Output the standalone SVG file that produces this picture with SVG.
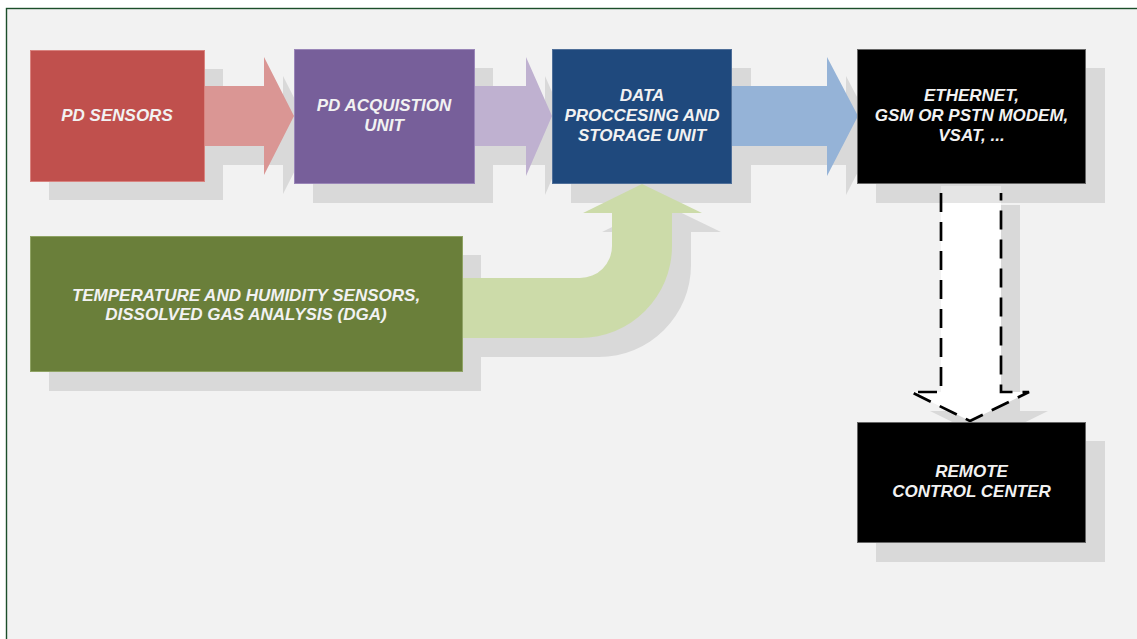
<svg xmlns="http://www.w3.org/2000/svg" width="1137" height="639" viewBox="0 0 1137 639">
  <style>
    .shadow { fill: #D9D9D9; }
    .box { stroke-width: 1; }
    .label { font-family: "Liberation Sans", Arial, sans-serif; font-size: 17px; font-weight: bold; font-style: italic; fill: #F2F2F2; text-anchor: middle; }
  </style>
  <defs>
    <path id="arrow1" d="M200 86 L264 86 L264 57 L294 116 L264 175 L264 146 L200 146 Z"/>
    <path id="arrow2" d="M470 86 L526 86 L526 57 L552 116 L526 176 L526 146 L470 146 Z"/>
    <path id="arrow3" d="M728 86 L827 86 L827 57 L858 116 L827 176 L827 146 L728 146 Z"/>
    <path id="bentArrow" d="M455 278 L580 278 A32 32 0 0 0 612 246 L612 213 L583 213 L642 184 L702 213 L672 213 L672 246 A92 92 0 0 1 580 338 L455 338 Z"/>
    <path id="downArrow" d="M941 186 L941 392 L911 392 L970 421 L1029 392 L1001 392 L1001 186 Z"/>
  </defs>

  <!-- page background and frame -->
  <rect x="0" y="0" width="1137" height="639" fill="#FFFFFF"/>
  <rect x="6.5" y="8.5" width="1140" height="640" fill="#F2F2F2" stroke="#1B4E2A" stroke-width="1.4"/>

  <!-- drop shadows -->
  <g id="shadows">
    <rect class="shadow" x="49" y="69" width="174" height="131"/>
    <rect class="shadow" x="313" y="68" width="180" height="135"/>
    <rect class="shadow" x="571" y="68" width="180" height="135"/>
    <rect class="shadow" x="876" y="68" width="229" height="135"/>
    <rect class="shadow" x="876" y="441" width="229" height="121"/>
    <rect class="shadow" x="49" y="255" width="432" height="136"/>
    <use class="shadow" href="#arrow1" transform="translate(19,19)"/>
    <use class="shadow" href="#arrow2" transform="translate(19,19)"/>
    <use class="shadow" href="#arrow3" transform="translate(19,19)"/>
    <use class="shadow" href="#bentArrow" transform="translate(19,19)"/>
    <use class="shadow" href="#downArrow" transform="translate(19,19)"/>
  </g>

  <!-- connectors -->
  <g id="connectors">
    <use href="#arrow1" fill="#DA9694"/>
    <use href="#arrow2" fill="#BFB1D0"/>
    <use href="#arrow3" fill="#95B3D7"/>
    <use href="#bentArrow" fill="#CCDBA9"/>
    <use href="#downArrow" fill="#FFFFFF"/>
    <!-- shadow of the modem box falling across the top of the link arrow -->
    <rect x="941" y="186" width="60" height="17" fill="#000000" fill-opacity="0.1"/>
    <path d="M941 193 L941 392 L911 392 L970 421 L1029 392 L1001 392 L1001 193" fill="none" stroke="#000000" stroke-width="2.7" stroke-dasharray="19 10"/>
  </g>

  <g id="pd-sensors">
    <rect class="box" x="30.5" y="50.5" width="174" height="131" fill="#C0504D" stroke="#D8837F"/>
    <text class="label" x="117" y="121">PD SENSORS</text>
  </g>

  <g id="pd-acquisition">
    <rect class="box" x="294.5" y="49.5" width="180" height="134" fill="#775F9A" stroke="#9A86B8"/>
    <text class="label" x="384" y="111">PD ACQUISTION</text>
    <text class="label" x="384" y="131">UNIT</text>
  </g>

  <g id="data-processing">
    <rect class="box" x="552.5" y="49.5" width="179" height="134" fill="#1F497D" stroke="#4F6F99"/>
    <text class="label" x="642" y="101">DATA</text>
    <text class="label" x="642" y="121">PROCCESING AND</text>
    <text class="label" x="642" y="141">STORAGE UNIT</text>
  </g>

  <g id="communication">
    <rect class="box" x="857.5" y="49.5" width="228" height="134" fill="#000000" stroke="#666666"/>
    <text class="label" x="971.5" y="101">ETHERNET,</text>
    <text class="label" x="971.5" y="121">GSM OR PSTN MODEM,</text>
    <text class="label" x="971.5" y="141">VSAT, ...</text>
  </g>

  <g id="remote-control">
    <rect class="box" x="857.5" y="422.5" width="228" height="120" fill="#000000" stroke="#666666"/>
    <text class="label" x="971.5" y="477">REMOTE</text>
    <text class="label" x="971.5" y="497">CONTROL CENTER</text>
  </g>

  <g id="environment-sensors">
    <rect class="box" x="30.5" y="236.5" width="432" height="135" fill="#6A7F3A" stroke="#8FA364"/>
    <text class="label" x="246" y="301">TEMPERATURE AND HUMIDITY SENSORS,</text>
    <text class="label" x="246" y="320">DISSOLVED GAS ANALYSIS (DGA)</text>
  </g>
</svg>
